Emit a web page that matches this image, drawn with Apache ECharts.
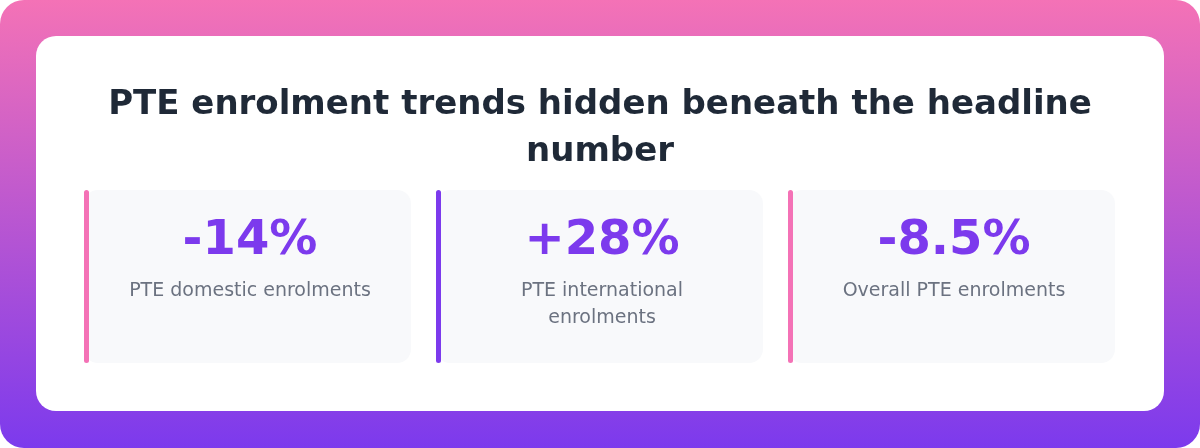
<!DOCTYPE html>
<html><head><meta charset="utf-8">
<script src="https://cdn.jsdelivr.net/npm/echarts@6/dist/echarts.min.js"></script>
<style>html,body{margin:0;padding:0;background:transparent}#c{width:1200px;height:448px}</style>
</head><body><div id="c"></div>
<script>
const title = 'PTE enrolment trends hidden beneath the headline\nnumber';
const values = ['-14%', '+28%', '-8.5%'];
const labels = ['PTE domestic enrolments', 'PTE international\nenrolments', 'Overall PTE enrolments'];
const accents = ['#f472b6', '#7c3aed', '#f472b6'];

const chart = echarts.init(document.getElementById('c'));
const F = 'DejaVu Sans';
const g = [
  {type:'rect', shape:{x:0,y:0,width:1200,height:448,r:24}, style:{fill:new echarts.graphic.LinearGradient(0,0,0,1,[{offset:0,color:'#f472b6'},{offset:1,color:'#7c3aed'}])}},
  {type:'rect', shape:{x:36,y:36,width:1128,height:375,r:20}, style:{fill:'#ffffff'}},
  {type:'text', x:600, y:82, style:{text:title, fill:'#1f2937', font:'bold 34px "DejaVu Sans"', align:'center', verticalAlign:'top', lineHeight:47}}
];
const xs = [84, 436, 788];
values.forEach((v,i)=>{
  const x = xs[i];
  g.push({type:'rect', shape:{x:x,y:190,width:327,height:173,r:14}, style:{fill:'#f8f9fb'}});
  g.push({type:'rect', shape:{x:x,y:190,width:5,height:173,r:2.5}, style:{fill:accents[i]}});
  g.push({type:'text', x:x+166, y:242, style:{text:v, fill:'#7c3aed', font:'bold 48px "DejaVu Sans"', align:'center', verticalAlign:'middle'}});
  g.push({type:'text', x:x+166, y:278, style:{text:labels[i], fill:'#6b7280', font:'19px "DejaVu Sans"', align:'center', verticalAlign:'top', lineHeight:27}});
});
chart.setOption({animation:false, graphic:g});
</script></body></html>
